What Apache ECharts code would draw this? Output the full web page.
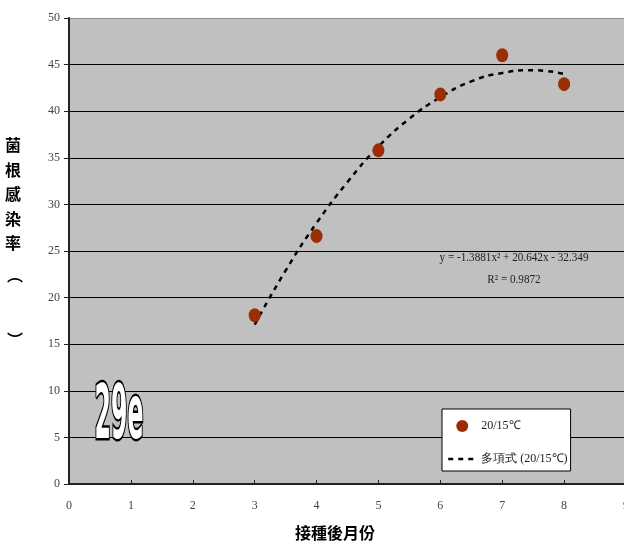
<!DOCTYPE html>
<html><head><meta charset="utf-8">
<script src="https://cdn.jsdelivr.net/npm/echarts@6/dist/echarts.min.js"></script>
<style>html,body{margin:0;padding:0;background:#fff}#c{width:624px;height:544px}</style>
</head><body><div id="c"></div>
<script>
const months = [3, 4, 5, 6, 7, 8];
const infection = [18.1, 26.6, 35.8, 41.8, 46.0, 42.9];
const trendX = [3, 3.5, 4, 4.5, 5, 5.5, 6, 6.5, 7, 7.5, 8];
const trendY = [17.1, 22.9, 28.0, 32.4, 36.2, 39.2, 41.5, 43.2, 44.1, 44.4, 44.0];
const yTicks = [0, 5, 10, 15, 20, 25, 30, 35, 40, 45, 50];
const xTicks = [0, 1, 2, 3, 4, 5, 6, 7, 8, 9];
const seriesName = '20/15℃';
const trendName = '多項式 (20/15℃)';
const equation = 'y = -1.3881x² + 20.642x - 32.349';
const r2 = '0.9872';
const panelLabel = '29e';

const chart = echarts.init(document.getElementById('c'), null, {renderer: 'canvas'});
const serif = '"Liberation Serif", "Times New Roman", serif';
const dotColor = '#9C2E06';
const splitColors = yTicks.map((v, i) => i === yTicks.length - 1 ? '#8a8a8a' : '#000');
const bigFont = 'bold 75px "DejaVu Sans Condensed", "DejaVu Sans", sans-serif';
chart.setOption({
  animation: false,
  backgroundColor: '#fff',
  grid: {left: 69, top: 18, width: 557, height: 466, backgroundColor: '#C0C0C0', show: true, borderWidth: 0, outerBoundsMode: 'none', containLabel: false},
  xAxis: {
    type: 'value', min: xTicks[0], max: xTicks[xTicks.length - 1], interval: 1,
    axisLine: {lineStyle: {color: '#222', width: 2}},
    axisTick: {inside: true, length: 4, lineStyle: {color: '#222'}},
    axisLabel: {color: '#444', fontFamily: serif, fontSize: 12, margin: 16},
    splitLine: {show: false}
  },
  yAxis: {
    type: 'value', min: yTicks[0], max: yTicks[yTicks.length - 1], interval: 5,
    axisLine: {show: true, lineStyle: {color: '#222', width: 2}},
    axisTick: {show: true, inside: false, length: 5, lineStyle: {color: '#222'}},
    axisLabel: {color: '#444', fontFamily: serif, fontSize: 12, margin: 9},
    splitLine: {show: true, lineStyle: {color: splitColors, width: 1}}
  },
  legend: {
    left: 442, top: 409, orient: 'vertical',
    backgroundColor: '#fff', borderColor: '#000', borderWidth: 1,
    padding: [11, 3, 6, 5],
    itemGap: 21, itemWidth: 28, itemHeight: 12,
    textStyle: {fontFamily: serif, fontSize: 12, color: '#222'},
    data: [
      {name: seriesName, icon: 'circle', itemStyle: {color: dotColor}},
      {name: trendName, itemStyle: {opacity: 0}, lineStyle: {color: '#000', width: 2.5, type: [5, 5]}}
    ]
  },
  series: [
    {
      name: trendName, type: 'line', smooth: true, showSymbol: false, symbol: 'none',
      data: trendX.map((x, i) => [x, trendY[i]]),
      lineStyle: {color: '#000', width: 2.5, type: [5, 5]},
      itemStyle: {color: '#000'}, z: 3
    },
    {
      name: seriesName, type: 'scatter',
      data: months.map((m, i) => [m, infection[i]]),
      symbol: 'circle', symbolSize: [12, 14],
      itemStyle: {color: dotColor, opacity: 1}, z: 4
    }
  ],
  graphic: [
    {type: 'text', left: 5, top: 133, style: {text: '菌\n根\n感\n染\n率', font: 'bold 16px "Noto Sans CJK TC", sans-serif', fill: '#000', lineHeight: 24.5, textAlign: 'left'}},
    {type: 'text', left: 7, top: 267, style: {text: '︵', font: 'bold 16px "Noto Sans CJK TC", sans-serif', fill: '#000'}},
    {type: 'text', left: 7, top: 332, style: {text: '︶', font: 'bold 16px "Noto Sans CJK TC", sans-serif', fill: '#000'}},
    {type: 'text', x: 335, y: 533, style: {text: '接種後月份', font: 'bold 16px "Noto Sans CJK TC", sans-serif', fill: '#000', textAlign: 'center', textVerticalAlign: 'middle'}},
    {type: 'text', x: 514, y: 258, scaleX: 0.93, style: {text: equation, font: '12px ' + serif, fill: '#222', textAlign: 'center', textVerticalAlign: 'middle'}},
    {type: 'text', x: 514, y: 280, scaleX: 0.93, style: {text: 'R² = ' + r2, font: '12px ' + serif, fill: '#222', textAlign: 'center', textVerticalAlign: 'middle'}},
    {type: 'text', x: 119, y: 419, scaleX: 0.35, z: 10, silent: true, style: {text: panelLabel, font: bigFont, fill: '#000', stroke: '#000', lineWidth: 5, lineJoin: 'round', textAlign: 'center', textVerticalAlign: 'middle'}},
    {type: 'text', x: 119, y: 419, scaleX: 0.35, z: 11, silent: true, style: {text: panelLabel, font: bigFont, fill: '#fff', textAlign: 'center', textVerticalAlign: 'middle'}}
  ]
});
</script></body></html>
